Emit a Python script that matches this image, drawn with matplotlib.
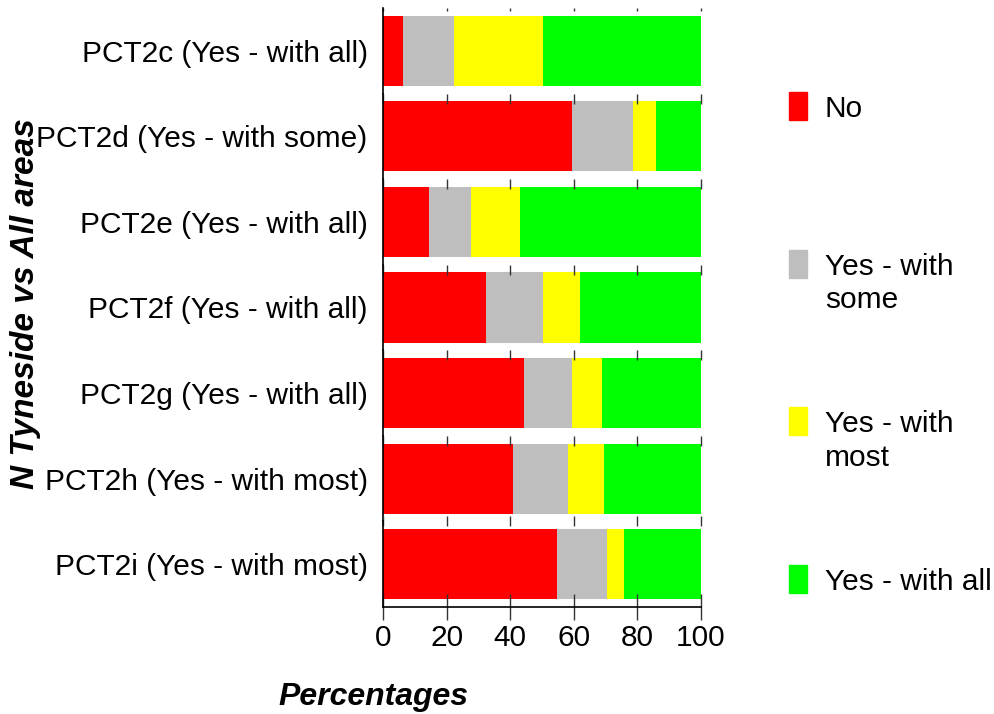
import matplotlib
matplotlib.use("Agg")
import matplotlib.pyplot as plt
from matplotlib.patches import Rectangle

# Data (percentages per answer)
questions = ['PCT2c (Yes - with all)', 'PCT2d (Yes - with some)', 'PCT2e (Yes - with all)',
             'PCT2f (Yes - with all)', 'PCT2g (Yes - with all)', 'PCT2h (Yes - with most)',
             'PCT2i (Yes - with most)']
no = [6.4, 59.4, 14.5, 32.3, 44.4, 40.9, 54.7]
yes_some = [16.0, 19.2, 13.2, 17.9, 15.0, 17.3, 15.8]
yes_most = [27.8, 7.2, 15.3, 11.8, 9.4, 11.2, 5.4]
yes_all = [49.8, 14.2, 57.0, 38.0, 31.2, 30.6, 24.1]

answers = ['No', 'Yes - with\nsome', 'Yes - with\nmost', 'Yes - with all']
colors = ['#FF0000', '#BEBEBE', '#FFFF00', '#00FF00']
xticks = [0, 20, 40, 60, 80, 100]

plt.rcParams['font.family'] = ['Liberation Sans', 'DejaVu Sans']

W, H = 995, 714
fig = plt.figure(figsize=(W / 100, H / 100), dpi=100)

# each question sits in its own panel (lattice style)
left, right, top, bottom = 383, 701, 8, 607
n = len(questions)
ph = (bottom - top) / n
series = [no, yes_some, yes_most, yes_all]

for i, q in enumerate(questions):
    y0 = top + i * ph
    ax = fig.add_axes([left / W, 1 - (y0 + ph) / H, (right - left) / W, ph / H])
    start = 0
    for vals, col in zip(series, colors):
        ax.barh(0, vals[i], left=start, height=0.82, color=col, edgecolor='none')
        start += vals[i]
    ax.set_xlim(0, 100)
    ax.set_ylim(-0.5, 0.5)
    ax.set_yticks([0])
    ax.set_yticklabels([q], fontsize=21.5)
    ax.tick_params(axis='y', length=0, pad=11)
    for s in ['top', 'right', 'bottom']:
        ax.spines[s].set_visible(False)
    ax.spines['left'].set_linewidth(1.2)
    ax.set_xticks(xticks)
    last = (i == n - 1)
    ax.tick_params(axis='x', top=True, bottom=last, labelbottom=last,
                   direction='in', length=2 if i == 0 else 7, width=1, color='#333333')
    if last:
        ax.spines['bottom'].set_visible(True)
        ax.spines['bottom'].set_linewidth(1.2)
        ax.tick_params(axis='x', which='major', bottom=True, direction='inout',
                       length=19, labelsize=21.5, pad=3)
        # restore short top ticks
        for t in ax.xaxis.get_major_ticks():
            t.tick2line.set_markersize(7)

fig.text(373 / W, 1 - 697 / H, 'Percentages', fontsize=23, fontweight='bold',
         fontstyle='italic', ha='center', va='center')
fig.text(26 / W, 1 - 304 / H, 'N Tyneside vs All areas', fontsize=24, fontweight='bold',
         fontstyle='italic', ha='center', va='center', rotation=90)

# legend on the right
for i, (lab, col) in enumerate(zip(answers, colors)):
    cy = 106 + i * 157.7
    fig.patches.append(Rectangle((789 / W, 1 - (cy + 14) / H), 18 / W, 28 / H,
                                 color=col, transform=fig.transFigure, figure=fig))
    fig.text(825 / W, 1 - (cy - 11) / H, lab, fontsize=21.5, ha='left', va='top',
             linespacing=1.25)

fig.savefig('out.png', dpi=100)
